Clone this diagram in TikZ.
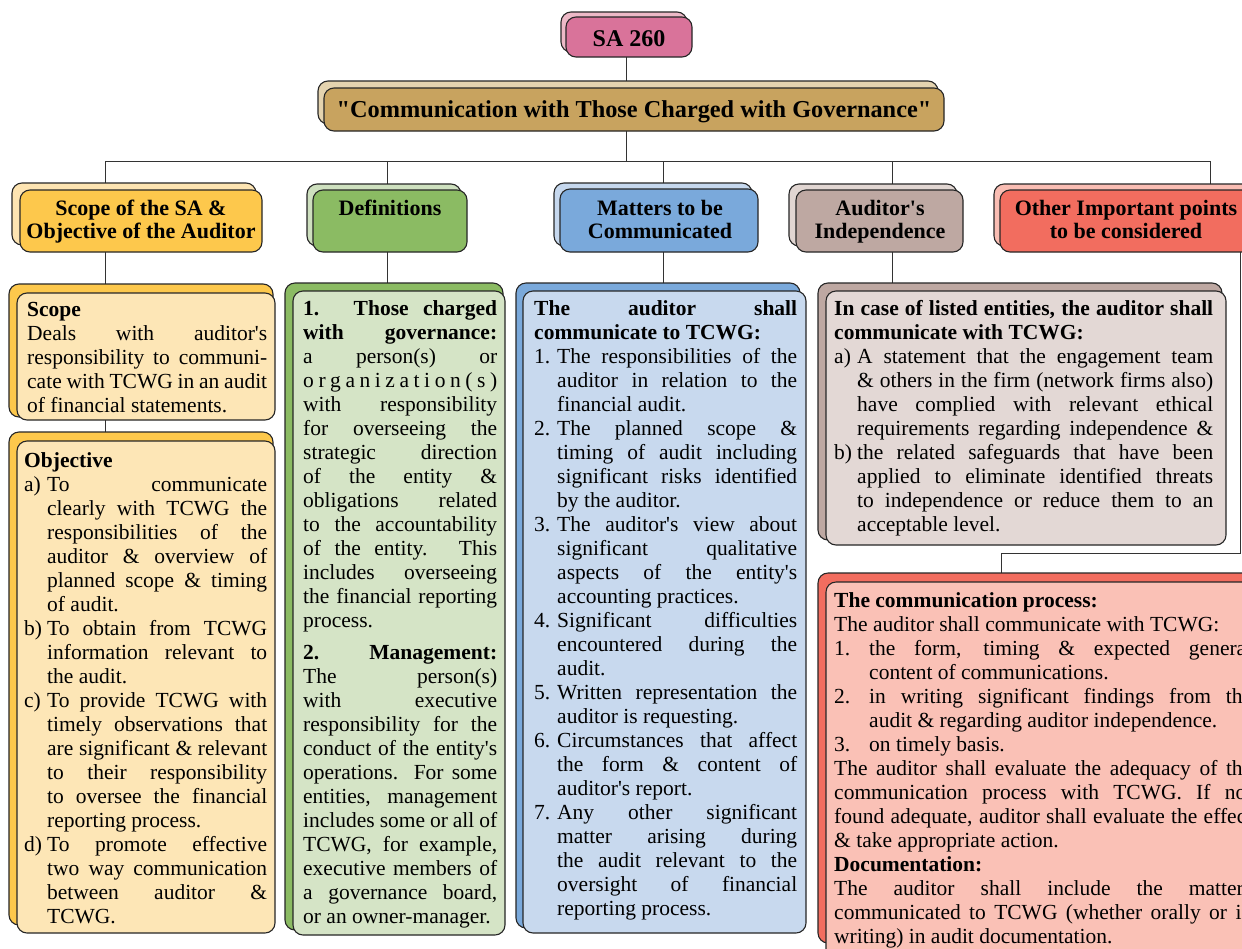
\documentclass[tikz,border=0pt]{standalone}
\usepackage{fontspec}
\setmainfont{Liberation Serif}[Ligatures=TeXOff]
\usetikzlibrary{fit}

% colours of the five branches
\definecolor{saF}{HTML}{D9739A}\definecolor{saB}{HTML}{EDB9C7}
\definecolor{tiF}{HTML}{C8A35F}\definecolor{tiB}{HTML}{E4D3AF}
\definecolor{yelF}{HTML}{FDC84C}\definecolor{yelB}{HTML}{FDE4B2}\definecolor{yelL}{HTML}{FDE6B6}
\definecolor{grnF}{HTML}{8BBB63}\definecolor{grnB}{HTML}{CEE0BF}\definecolor{grnL}{HTML}{D5E4C6}
\definecolor{bluF}{HTML}{7AA9DB}\definecolor{bluB}{HTML}{C6D8EE}\definecolor{bluL}{HTML}{C8D9EE}
\definecolor{brnF}{HTML}{BEA8A2}\definecolor{brnB}{HTML}{E1D6D2}\definecolor{brnL}{HTML}{E3D8D5}
\definecolor{redF}{HTML}{F26D5F}\definecolor{redB}{HTML}{F9BDB3}\definecolor{redL}{HTML}{FAC1B6}

\hbadness=10000 \hfuzz=8pt
% line helpers: justified row, natural row, centred row, item rows with a hanging label
\newlength\hanglab
\newcommand\jrow[1]{\hbox to\hsize{#1}}
\newcommand\nrow[1]{\hbox to\hsize{#1\hfil}}
\newcommand\crow[1]{\hbox to\hsize{\hfil#1\hfil}}
\newcommand\ijrow[2]{\hbox to\hsize{\hbox to\hanglab{#1\hfil}#2}}
\newcommand\inrow[2]{\hbox to\hsize{\hbox to\hanglab{#1\hfil}#2\hfil}}

\begin{document}
\begin{tikzpicture}[x=1pt,y=-1pt,
  frontbox/.style={draw=black!85, line width=1.1pt, rounded corners=10pt},
  backbox/.style={draw=black!85, line width=1.1pt, rounded corners=10pt},
  area/.style={inner sep=0pt, outer sep=0pt},
  link/.style={draw=black!80, line width=1pt},
  body/.style={inner sep=0pt, anchor=base west, font=\fontsize{21.5}{24}\selectfont},
  headtxt/.style={inner sep=0pt, anchor=base, font=\bfseries\fontsize{22}{23}\selectfont}]
\useasboundingbox (0,0) rectangle (1242,948);
\fill[white] (0,0) rectangle (1242,948);
\clip (0,0) rectangle (1242,948);

% ---------- box areas (named nodes) ----------
\node[area, fit={(566,17) (692,57)}] (sa) {};
\node[area, fit={(324,88) (944,131)}] (ti) {};
% headers
\node[area, fit={(20,190) (262,252)}] (scopeH) {};
\node[area, fit={(313,190) (467,252)}] (defH) {};
\node[area, fit={(560,189) (758,252)}] (matH) {};
\node[area, fit={(796,190) (963,252)}] (indH) {};
\node[area, fit={(1000,190) (1262,252)}] (othH) {};
% bodies
\node[area, fit={(17,293) (275,420)}] (scopeB) {};
\node[area, fit={(17,441) (275,933)}] (objB) {};
\node[area, fit={(293,291) (505,935)}] (defB) {};
\node[area, fit={(523,291) (806,933)}] (matB) {};
\node[area, fit={(826,291) (1226,545)}] (indB) {};
\node[area, fit={(826,582) (1262,975)}] (comB) {};

\coordinate (top) at (626,161);
\coordinate (j1) at (105,161);
\coordinate (j2) at (387,161);
\coordinate (j3) at (663,161);
\coordinate (j4) at (892,161);
\coordinate (j5) at (1210,161);
\coordinate (r1) at (1240.5,553);
\coordinate (r2) at (1001,553);

% ---------- connectors ----------
\draw[link] (sa.south -| top) -- (ti.north -| top);
\draw[link] (ti.south -| top) -- (top);
\draw[link] (j1) -- (j5);
\draw[link] (j1) -- (j1 |- scopeH.north);
\draw[link] (j2) -- (j2 |- defH.north);
\draw[link] (j3) -- (j3 |- matH.north);
\draw[link] (j4) -- (j4 |- indH.north);
\draw[link] (j5) -- (j5 |- othH.north);
\draw[link] (j1 |- scopeH.south) -- (j1 |- scopeB.north);
\draw[link] (j1 |- scopeB.south) -- (j1 |- objB.north);
\draw[link] (j2 |- defH.south) -- (j2 |- defB.north);
\draw[link] (j3 |- matH.south) -- (j3 |- matB.north);
\draw[link] (j4 |- indH.south) -- (j4 |- indB.north);
\draw[link] (r1 |- othH.south) -- (r1) -- (r2) -- (r2 |- comB.north);

% ---------- boxes: offset back copy, then front ----------
\draw[backbox, fill=saB] (561,12) rectangle (687,52);
\draw[frontbox, fill=saF] (sa.north west) rectangle (sa.south east);
\draw[backbox, fill=tiB] (318,81) rectangle (938,124);
\draw[frontbox, fill=tiF] (ti.north west) rectangle (ti.south east);

\draw[backbox, fill=yelB] (12,183) rectangle (256,245);
\draw[frontbox, fill=yelF] (scopeH.north west) rectangle (scopeH.south east);
\draw[backbox, fill=grnB] (307,184) rectangle (461,246);
\draw[frontbox, fill=grnF] (defH.north west) rectangle (defH.south east);
\draw[backbox, fill=bluB] (554,183) rectangle (752,246);
\draw[frontbox, fill=bluF] (matH.north west) rectangle (matH.south east);
\draw[backbox, fill=brnB] (789,184) rectangle (957,246);
\draw[frontbox, fill=brnF] (indH.north west) rectangle (indH.south east);
\draw[backbox, fill=redB] (994,184) rectangle (1256,246);
\draw[frontbox, fill=redF] (othH.north west) rectangle (othH.south east);

\draw[backbox, fill=yelF] (9,284) rectangle (273,417);
\draw[frontbox, fill=yelL] (scopeB.north west) rectangle (scopeB.south east);
\draw[backbox, fill=yelF] (9,432) rectangle (273,925);
\draw[frontbox, fill=yelL] (objB.north west) rectangle (objB.south east);
\draw[backbox, fill=grnF] (285,283) rectangle (503,930);
\draw[frontbox, fill=grnL] (defB.north west) rectangle (defB.south east);
\draw[backbox, fill=bluF] (516,283) rectangle (800,928);
\draw[frontbox, fill=bluL] (matB.north west) rectangle (matB.south east);
\draw[backbox, fill=brnF] (818,283) rectangle (1222,540);
\draw[frontbox, fill=brnL] (indB.north west) rectangle (indB.south east);
\draw[backbox, fill=redF] (818,573) rectangle (1258,943);
\draw[frontbox, fill=redL] (comB.north west) rectangle (comB.south east);

% ---------- titles ----------
\node[inner sep=0pt, anchor=base, font=\bfseries\fontsize{24}{28}\selectfont] (saT) at (629,46) {SA 260};
\node[inner sep=0pt, anchor=base, font=\bfseries\fontsize{24.3}{28}\selectfont] (tiT) at (634,117) {"Communication with Those Charged with Governance"};

\node[headtxt] (scopeHT) at (141,215) {\vtop{\hsize=300pt \crow{Scope of the SA \&}\crow{Objective of the Auditor}}};
\node[headtxt] (defHT) at (390,215) {\vtop{\hsize=200pt \crow{Definitions}}};
\node[headtxt] (matHT) at (660,215) {\vtop{\hsize=240pt \crow{Matters to be}\crow{Communicated}}};
\node[headtxt] (indHT) at (880,215) {\vtop{\hsize=220pt \crow{Auditor's}\crow{Independence}}};
\node[headtxt] (othHT) at (1126,215) {\vtop{\hsize=300pt \crow{Other Important points}\crow{to be considered}}};

% ---------- body texts ----------
\node[body] (scopeT) at (27,316) {\vtop{\hsize=240pt
  \nrow{\bfseries Scope}
  \jrow{Deals with auditor's}
  \jrow{responsibility to communi-}
  \jrow{cate with TCWG in an audit}
  \nrow{of financial statements.}}};

\node[body] (objT) at (24,467) {\vtop{\hsize=243pt \hanglab=23pt
  \nrow{\bfseries Objective}
  \ijrow{a)}{To communicate}
  \ijrow{}{clearly with TCWG the}
  \ijrow{}{responsibilities of the}
  \ijrow{}{auditor \& overview of}
  \ijrow{}{planned scope \& timing}
  \inrow{}{of audit.}
  \ijrow{b)}{To obtain from TCWG}
  \ijrow{}{information relevant to}
  \inrow{}{the audit.}
  \ijrow{c)}{To provide TCWG with}
  \ijrow{}{timely observations that}
  \ijrow{}{are significant \& relevant}
  \ijrow{}{to their responsibility}
  \ijrow{}{to oversee the financial}
  \inrow{}{reporting process.}
  \ijrow{d)}{To promote effective}
  \ijrow{}{two way communication}
  \ijrow{}{between auditor \&}
  \inrow{}{TCWG.}}};

\node[body] (defT) at (303,315) {\vtop{\hsize=194pt
  \jrow{\bfseries 1. Those charged}
  \jrow{\bfseries with governance:}
  \jrow{a person(s) or}
  \jrow{o r g a n i z a t i o n ( s )}
  \jrow{with responsibility}
  \jrow{for overseeing the}
  \jrow{strategic direction}
  \jrow{of the entity \&}
  \jrow{obligations related}
  \jrow{to the accountability}
  \jrow{of the entity. This}
  \jrow{includes overseeing}
  \jrow{the financial reporting}
  \nrow{process.}
  \vskip8pt
  \jrow{\bfseries 2. Management:}
  \jrow{The person(s)}
  \jrow{with executive}
  \jrow{responsibility for the}
  \jrow{conduct of the entity's}
  \jrow{operations. For some}
  \jrow{entities, management}
  \jrow{includes some or all of}
  \jrow{TCWG, for example,}
  \jrow{executive members of}
  \jrow{a governance board,}
  \nrow{or an owner-manager.}}};

\node[body] (matT) at (534,315) {\vtop{\hsize=263pt \hanglab=23pt
  \jrow{\bfseries The auditor shall}
  \nrow{\bfseries communicate to TCWG:}
  \ijrow{1.}{The responsibilities of the}
  \ijrow{}{auditor in relation to the}
  \inrow{}{financial audit.}
  \ijrow{2.}{The planned scope \&}
  \ijrow{}{timing of audit including}
  \ijrow{}{significant risks identified}
  \inrow{}{by the auditor.}
  \ijrow{3.}{The auditor's view about}
  \ijrow{}{significant qualitative}
  \ijrow{}{aspects of the entity's}
  \inrow{}{accounting practices.}
  \ijrow{4.}{Significant difficulties}
  \ijrow{}{encountered during the}
  \inrow{}{audit.}
  \ijrow{5.}{Written representation the}
  \inrow{}{auditor is requesting.}
  \ijrow{6.}{Circumstances that affect}
  \ijrow{}{the form \& content of}
  \inrow{}{auditor's report.}
  \ijrow{7.}{Any other significant}
  \ijrow{}{matter arising during}
  \ijrow{}{the audit relevant to the}
  \ijrow{}{oversight of financial}
  \inrow{}{reporting process.}}};

\node[body] (indT) at (834,315) {\vtop{\hsize=379pt \hanglab=23pt
  \jrow{\bfseries In case of listed entities, the auditor shall}
  \nrow{\bfseries communicate with TCWG:}
  \ijrow{a)}{A statement that the engagement team}
  \ijrow{}{\& others in the firm (network firms also)}
  \ijrow{}{have complied with relevant ethical}
  \ijrow{}{requirements regarding independence \&}
  \ijrow{b)}{the related safeguards that have been}
  \ijrow{}{applied to eliminate identified threats}
  \ijrow{}{to independence or reduce them to an}
  \inrow{}{acceptable level.}}};

\node[body] (comT) at (834,607) {\vtop{\hsize=418pt \hanglab=35pt
  \nrow{\bfseries The communication process:}
  \nrow{The auditor shall communicate with TCWG:}
  \ijrow{1.}{the form, timing \& expected general}
  \inrow{}{content of communications.}
  \ijrow{2.}{in writing significant findings from the}
  \inrow{}{audit \& regarding auditor independence.}
  \inrow{3.}{on timely basis.}
  \jrow{The auditor shall evaluate the adequacy of the}
  \jrow{communication process with TCWG. If not}
  \jrow{found adequate, auditor shall evaluate the effect}
  \nrow{\& take appropriate action.}
  \nrow{\bfseries Documentation:}
  \jrow{The auditor shall include the matters}
  \jrow{communicated to TCWG (whether orally or in}
  \nrow{writing) in audit documentation.}}};
\end{tikzpicture}
\end{document}
